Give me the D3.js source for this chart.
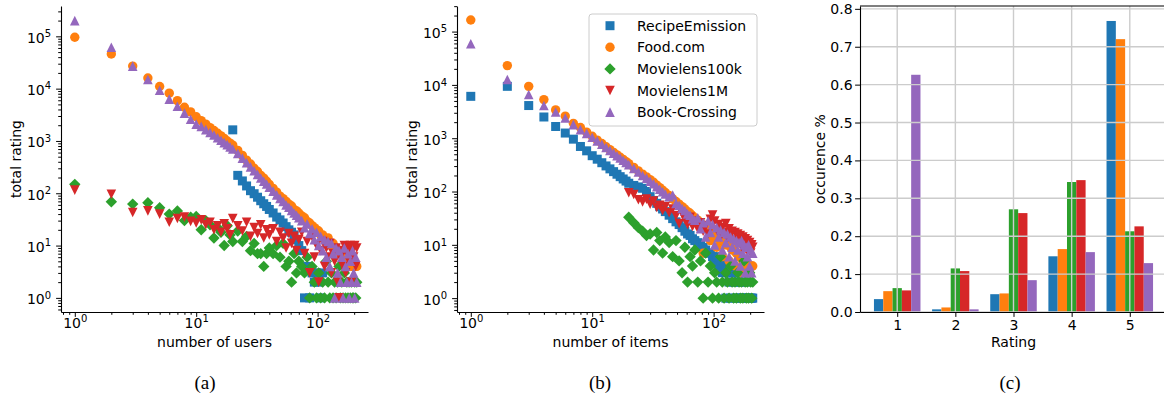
<!DOCTYPE html>
<html>
<head>
<meta charset="utf-8">
<title>rating statistics</title>
<script src="https://cdn.jsdelivr.net/npm/d3@7"></script>
<style>
	body { margin: 0; background: #ffffff; }
	text { font-family: "DejaVu Sans", sans-serif; }
</style>
</head>
<body>
<svg id="figure" width="1164" height="403"></svg>
<script>
/*
 * Three panels about the rating data sets:
 * (a) total rating against number of users,
 * (b) total rating against number of items,
 * (c) share of each rating level.
 */

// x positions shared by every scatter series (number of users / items)
var xGrid = [1, 2, 3, 4, 5, 6, 7, 8, 9, 10,
	11, 12, 13, 14, 15, 16, 17, 18, 19, 20,
	22, 24, 26, 28, 30, 32, 34, 36, 38, 40,
	43, 46, 49, 52, 55, 58, 61, 64, 67, 70,
	74, 78, 82, 86, 90, 94, 98, 102, 106, 110,
	114, 118, 122, 126, 130, 134, 138, 142, 146, 150,
	154, 158, 162, 166, 170, 174, 178, 182, 186, 190,
	194, 198, 202, 206, 210];

var seriesNames = ["RecipeEmission", "Food.com", "Movielens100k", "Movielens1M", "Book-Crossing"];
var seriesColors = ["#1f77b4", "#ff7f0e", "#2ca02c", "#d62728", "#9467bd"];
var seriesMarkers = ["square", "circle", "diamond", "tri_down", "tri_up"];

// (a) total rating per number of users
var usersRecipe = [null, null, null, null, null, null, null, null, null, null,
	null, null, null, null, null, null, null, null, null, 1630,
	220, 172, 138, 112, 98, 84, 72, 63, 56, 49,
	42, 35, 31, 27, 23, 20, 18, 16, 13, 10,
	8, 1, 4, 1, 3, 2, 3, 2, 1, 3,
	null, null, null, null, null, null, null, null, null, null,
	null, null, null, null, null, null, null, null, null, null,
	null, null, null, null, null];
var usersFood = [96000, 46000, 27000, 16000, 11000, 8200, 5900, 4400, 3600, 2900,
	2450, 2100, 1800, 1580, 1400, 1250, 1120, 1000, 910, 830,
	660, 530, 430, 362, 300, 260, 220, 195, 170, 148,
	124, 105, 88, 79, 70, 62, 57, 49, 46, 42,
	37, 34, 29, 27, 24, 22, 20, 19, 16, 16,
	14, 13, 14, 11, 10, 11, 9, 9, 8, 8,
	7, 7, 6, 6, 6, 5, 5, 5, 5, 4,
	4, 4, 4, 4, 4];
var usersML100k = [148, 69, 62, 66, 53, 40, 46, 30, 35, 36,
	20, 30, 25, 14, 22, 18, 10, 24, 16, 12,
	19, 12, 15, 8, 11, 7, 7, 4, 7, 9,
	7, 10, 6, 11, 4, 5, 2, 7, 3, 5,
	4, 3, 6, 1, 4, 2, 1, 3, 1, 2,
	1, 5, 2, 1, 3, 1, 2, 1, 2, 4,
	1, 2, 1, 3, 1, 2, 1, 2, 1, 2,
	1, 1, 2, 1, 2];
var usersML1M = [115, 96, 43, 46, 40, 28, 33, 35, 29, 27,
	31, 25, 28, 20, 24, 18, 26, 21, 16, 33,
	24, 19, 28, 15, 22, 17, 25, 14, 20, 16,
	21, 12, 18, 14, 9, 17, 11, 15, 8, 13,
	18, 7, 12, 3, 15, 6, 10, 2, 8, 12,
	4, 9, 6, 11, 3, 7, 5, 9, 2, 1,
	6, 8, 4, 10, 3, 7, 9, 5, 10, 2,
	8, 6, 10, 4, 9];
var usersBook = [200000, 62000, 27000, 15000, 9300, 6300, 4600, 3400, 2600, 2100,
	1900, 1650, 1450, 1300, 1150, 1030, 930, 850, 770, 700,
	580, 470, 385, 320, 270, 230, 196, 170, 150, 130,
	110, 93, 80, 70, 60, 54, 47, 42, 38, 34,
	30, 22, 26, 17, 21, 13, 18, 10, 15, 8,
	13, 6, 12, 4, 11, 7, 1, 9, 3, 8,
	2, 6, 1, 9, 4, 2, 7, 1, 5, 2,
	8, 3, 1, 6, 2];

// (b) total rating per number of items
var itemsRecipe = [6100, 9400, 4100, 2500, 1660, 1250, 960, 700, 580, 470,
	404, 347, 302, 266, 236, 211, 190, 172, 157, 143,
	130, 122, 115, 100, 80, 68, 60, 52, 47, 42,
	36, 31, 27, 24, 21, 18, 16, 15, 13, 12,
	11, 10, 9, 8, 7, 7, 6, 5, 6, 4,
	5, 3, 4, 1, 3, 2, 1, 3, 2, 1,
	2, 1, 2, 1, 1, 2, 1, 1, 2, 1,
	1, 1, 1, 1, 1];
var itemsFood = [165000, 23000, 9400, 5300, 3400, 2600, 1900, 1590, 1300, 1085,
	920, 795, 690, 610, 543, 487, 440, 400, 363, 333,
	283, 244, 212, 188, 167, 149, 132, 118, 106, 96,
	84, 73, 65, 58, 52, 47, 42, 39, 35, 32,
	29, 26, 7, 22, 20, 12, 17, 15, 9, 13,
	12, 6, 11, 10, 10, 5, 9, 8, 8, 4,
	7, 7, 6, 6, 3, 5, 5, 5, 4, 4,
	4, 3, 4, 4, 4];
var itemsML100k = [null, null, null, null, null, null, null, null, null, null,
	null, null, null, null, null, null, null, null, null, 33,
	26, 21, 18, 15, 16, 8, 17, 12, 7, 14,
	11, 6, 12, 5, 3, 9, 2, 6, 4, 8,
	2, 5, 1, 7, 2, 4, 1, 3, 2, 1,
	6, 2, 1, 3, 2, 1, 4, 2, 1, 2,
	1, 3, 2, 1, 2, 1, 5, 2, 1, 2,
	1, 3, 2, 1, 2];
var itemsML1M = [null, null, null, null, null, null, null, null, null, null,
	null, null, null, null, null, null, null, null, null, 95,
	88, 70, 64, 72, 58, 66, 50, 55, 44, 52,
	40, 47, 35, 25, 38, 30, 24, 33, 22, 28,
	20, 26, 18, 23, 16, 30, 36, 28, 19, 24,
	14, 21, 17, 25, 13, 20, 15, 18, 12, 17,
	11, 16, 13, 15, 9, 14, 11, 13, 8, 12,
	10, 11, 7, 10, 9];
var itemsBook = [59000, 12600, 6600, 4100, 3100, 2400, 1800, 1450, 1230, 1040,
	890, 770, 670, 590, 525, 470, 425, 385, 350, 320,
	270, 232, 200, 178, 157, 140, 123, 110, 99, 90,
	80, 86, 60, 55, 48, 44, 38, 36, 31, 29,
	32, 20, 26, 14, 28, 17, 24, 10, 21, 14,
	19, 8, 17, 11, 16, 6, 14, 9, 13, 5,
	12, 8, 11, 4, 12, 7, 10, 3, 9, 6,
	10, 4, 8, 3, 7];

// (c) share of each rating level
var ratingLevels = [1, 2, 3, 4, 5];
var ratingRecipe = [0.034, 0.007, 0.047, 0.147, 0.768];
var ratingFood = [0.055, 0.012, 0.049, 0.166, 0.720];
var ratingML100k = [0.063, 0.115, 0.271, 0.343, 0.213];
var ratingML1M = [0.057, 0.108, 0.261, 0.348, 0.226];
var ratingBook = [0.626, 0.007, 0.084, 0.158, 0.129];
var ratingTicks = [0.0, 0.1, 0.2, 0.3, 0.4, 0.5, 0.6, 0.7, 0.8];

var svg = d3.select("#figure");

/*
 * markerPath()
 * Path of a matplotlib style marker centered on 0,0.
 */
function markerPath(kind) {
	var h = 4.5, r = 4.7, d = 5.7, t = 4.8;
	if (kind == "square")
		return "M" + (-h) + "," + (-h) + "h" + (2 * h) + "v" + (2 * h) + "h" + (-2 * h) + "Z";
	if (kind == "circle")
		return "M" + r + ",0A" + r + "," + r + " 0 1,1 " + (-r) + ",0A" + r + "," + r + " 0 1,1 " + r + ",0Z";
	if (kind == "diamond")
		return "M0," + (-d) + "L" + d + ",0L0," + d + "L" + (-d) + ",0Z";
	if (kind == "tri_down")
		return "M0," + t + "L" + t + "," + (-t) + "L" + (-t) + "," + (-t) + "Z";
	return "M0," + (-t) + "L" + t + "," + t + "L" + (-t) + "," + t + "Z";
}

// the 2..9 ticks of every decade inside a log domain
function minorTicks(domain) {
	var out = [];
	for (var k = -1; k <= 6; k++) {
		for (var m = 2; m <= 9; m++) {
			var v = m * Math.pow(10, k);
			if (v > domain[0] && v < domain[1]) out.push(v);
		}
	}
	return out;
}

// black ticks, 14px text
function styleAxis(sel, keepDomain) {
	sel.attr("font-family", null).attr("font-size", 14);
	if (!keepDomain) sel.select(".domain").remove();
	sel.select(".domain").attr("stroke", "#000").attr("stroke-width", 1.1);
	sel.selectAll(".tick line").attr("stroke", "#000").attr("stroke-width", 1);
	sel.selectAll(".tick text").attr("fill", "#000");
}

// write a tick label as 10 with the exponent raised
function powerLabel(d) {
	var t = d3.select(this).text(null);
	t.append("tspan").text("10");
	t.append("tspan").attr("dy", -5.7).attr("font-size", 10).text(Math.round(Math.log10(d)));
}

/*
 * drawScatterPanel()
 * One log-log panel with the five data sets.
 */
function drawScatterPanel(left, yDomain, seriesValues, xLabel, yLabelX, caption, captionX) {
	var top = 6, bottom = 312, right = left + 307;
	var x = d3.scaleLog().domain([0.77, 260]).range([left, right]);
	var y = d3.scaleLog().domain(yDomain).range([bottom, top]);
	var g = svg.append("g");

	// points, one layer per data set, in legend order
	seriesValues.forEach(function(vals, s) {
		var pts = xGrid.map(function(xv, i) {
			return {x: xv, y: vals[i]};
		}).filter(function(d) {
			return d.y != null;
		});
		g.append("g").selectAll("path").data(pts).enter().append("path")
			.attr("d", markerPath(seriesMarkers[s]))
			.attr("transform", function(d) {
				return "translate(" + x(d.x) + "," + y(d.y) + ")";
			})
			.style("fill", seriesColors[s]);
	});

	// x axis: minor then major ticks
	var xa = g.append("g").attr("transform", "translate(0," + bottom + ")");
	xa.append("g").call(d3.axisBottom(x).tickValues(minorTicks(x.domain())).tickSize(2.8).tickFormat(""))
		.call(styleAxis, false);
	xa.append("g").call(d3.axisBottom(x).tickValues([1, 10, 100]).tickSize(4.9).tickSizeOuter(0).tickPadding(1.2).tickFormat(""))
		.call(styleAxis, true)
		.selectAll(".tick text").each(powerLabel);

	// y axis
	var ya = g.append("g").attr("transform", "translate(" + left + ",0)");
	ya.append("g").call(d3.axisLeft(y).tickValues(minorTicks(y.domain())).tickSize(2.8).tickFormat(""))
		.call(styleAxis, false);
	ya.append("g").call(d3.axisLeft(y).tickValues([1, 10, 100, 1000, 10000, 100000]).tickSize(4.9).tickSizeOuter(0).tickPadding(5).tickFormat(""))
		.call(styleAxis, true)
		.selectAll(".tick text").attr("dy", "0.42em").each(powerLabel);

	g.append("text").attr("x", (left + right) / 2).attr("y", 347).attr("text-anchor", "middle")
		.style("font-size", "14px").text(xLabel);
	g.append("text").attr("transform", "translate(" + yLabelX + "," + ((top + bottom) / 2) + ") rotate(-90)")
		.attr("text-anchor", "middle").style("font-size", "14px").text("total rating");
	drawCaption(caption, captionX);
}

/*
 * drawLegend()
 * Boxed legend in the upper right of panel (b).
 */
function drawLegend(bx, by) {
	var g = svg.append("g");
	g.append("rect").attr("x", bx).attr("y", by).attr("width", 168).attr("height", 112)
		.attr("rx", 3).style("fill", "#ffffff").style("fill-opacity", 0.8)
		.style("stroke", "#cccccc").style("stroke-width", 1);
	var rows = g.selectAll("g.entry").data(seriesNames).enter().append("g").attr("class", "entry")
		.attr("transform", function(d, i) {
			return "translate(" + (bx + 21) + "," + (by + 11.7 + i * 21.6) + ")";
		});
	rows.append("path").attr("d", function(d, i) {
		return markerPath(seriesMarkers[i]);
	}).style("fill", function(d, i) {
		return seriesColors[i];
	});
	rows.append("text").attr("x", 27).attr("y", 5).style("font-size", "14px").text(function(d) {
		return d;
	});
}

/*
 * drawRatingPanel()
 * Grouped bars, one group per rating level.
 */
function drawRatingPanel() {
	var left = 860, right = 1167, top = 6, bottom = 312;
	var barWidth = 0.16;
	var x = d3.scaleLinear().domain([0.36, 5.64]).range([left, right]);
	var y = d3.scaleLinear().domain([0, 0.8075]).range([bottom, top]);
	var g = svg.append("g");
	var groups = [ratingRecipe, ratingFood, ratingML100k, ratingML1M, ratingBook];

	groups.forEach(function(vals, s) {
		var off = (s - 2) * barWidth;
		g.append("g").selectAll("rect").data(vals).enter().append("rect")
			.attr("x", function(d, i) {
				return x(ratingLevels[i] + off - barWidth / 2);
			})
			.attr("width", x(barWidth) - x(0))
			.attr("y", function(d) {
				return y(d);
			})
			.attr("height", function(d) {
				return y(0) - y(d);
			})
			.style("fill", seriesColors[s]);
	});

	// grid sits over the bars
	g.append("g").selectAll("line").data(ratingTicks).enter().append("line")
		.attr("x1", left).attr("x2", right).attr("y1", function(d) {
			return y(d);
		}).attr("y2", function(d) {
			return y(d);
		}).style("stroke", "#cccccc").style("stroke-width", 1.4);
	g.append("g").selectAll("line").data(ratingLevels).enter().append("line")
		.attr("y1", top).attr("y2", bottom).attr("x1", function(d) {
			return x(d);
		}).attr("x2", function(d) {
			return x(d);
		}).style("stroke", "#cccccc").style("stroke-width", 1.4);

	g.append("g").attr("transform", "translate(0," + bottom + ")")
		.call(d3.axisBottom(x).tickValues(ratingLevels).tickFormat(d3.format("d")).tickSize(4.9).tickSizeOuter(0).tickPadding(2.8))
		.call(styleAxis, true);
	g.append("g").attr("transform", "translate(" + left + ",0)")
		.call(d3.axisLeft(y).tickValues(ratingTicks).tickFormat(d3.format(".1f")).tickSize(4.9).tickSizeOuter(0).tickPadding(2.5))
		.call(styleAxis, true);
	g.append("line").attr("x1", left).attr("x2", right).attr("y1", top).attr("y2", top)
		.style("stroke", "#000").style("stroke-width", 1.1);
	g.append("line").attr("x1", right).attr("x2", right).attr("y1", top).attr("y2", bottom)
		.style("stroke", "#000").style("stroke-width", 1.1);

	g.append("text").attr("x", (left + right) / 2).attr("y", 347).attr("text-anchor", "middle")
		.style("font-size", "14px").text("Rating");
	g.append("text").attr("transform", "translate(825," + ((top + bottom) / 2) + ") rotate(-90)")
		.attr("text-anchor", "middle").style("font-size", "14px").text("occurence %");
	drawCaption("(c)", 1010);
}

function drawCaption(label, cx) {
	svg.append("text").attr("x", cx).attr("y", 389).attr("text-anchor", "middle")
		.style("font-family", "'Liberation Serif', serif").style("font-size", "19px").text(label);
}

drawScatterPanel(61, [Math.pow(10, -0.27), Math.pow(10, 5.58)],
	[usersRecipe, usersFood, usersML100k, usersML1M, usersBook],
	"number of users", 20.5, "(a)", 205);
drawScatterPanel(457, [Math.pow(10, -0.26), Math.pow(10, 5.48)],
	[itemsRecipe, itemsFood, itemsML100k, itemsML1M, itemsBook],
	"number of items", 417, "(b)", 600);
drawLegend(589, 14);
drawRatingPanel();
</script>
</body>
</html>
